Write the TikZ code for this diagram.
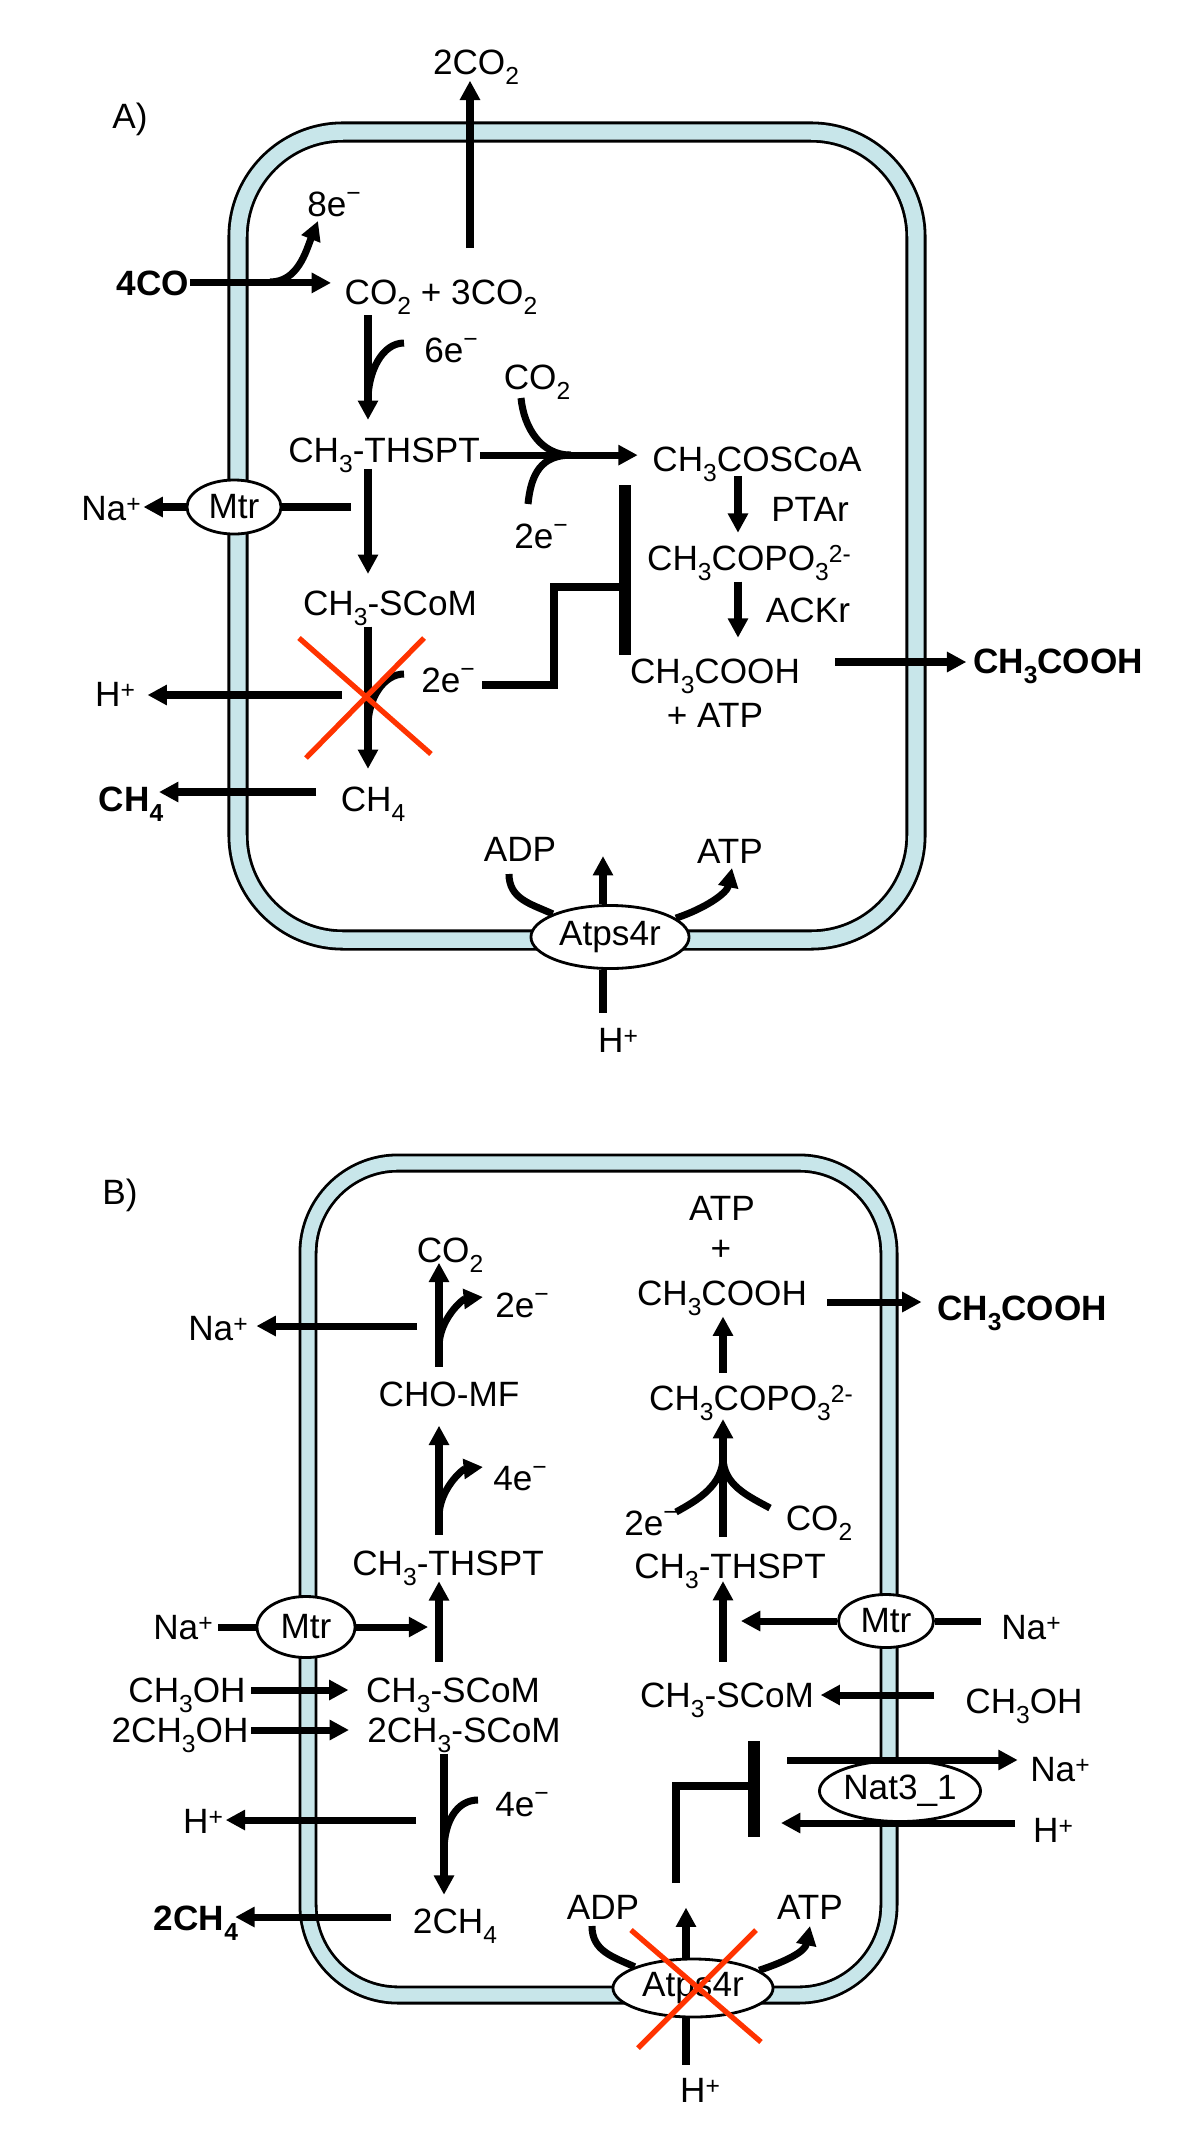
\documentclass[tikz,border=0pt]{standalone}
\usepackage{fontspec}
\setmainfont{Liberation Sans}
\usetikzlibrary{arrows.meta, shapes.geometric}
\definecolor{cellblue}{RGB}{200,230,234}
\definecolor{knockred}{RGB}{255,51,0}
\newcommand{\sbs}[1]{\raisebox{-0.3em}{\scriptsize #1}}
\newcommand{\sps}[1]{\raisebox{0.22em}{\scriptsize #1}}
\newcommand{\elec}[1]{#1e\raisebox{0.42em}{\scriptsize −}}

\begin{document}
\begin{tikzpicture}[x=0.01cm, y=-0.01cm,
  chem/.style={inner sep=0pt, anchor=base},
  flux/.style={-{Triangle[length=5.5pt,width=5.5pt]}, line width=2pt},
  bond/.style={line width=2pt},
  enzyme/.style={ellipse, draw, fill=white, line width=0.8pt, inner sep=0pt},
  inhibit/.style={line width=3.6pt},
  stepline/.style={line width=2.3pt},
  knockout/.style={knockred, line width=1.5pt},
  wallout/.style={line width=6pt, rounded corners=1.05cm},
  wallin/.style={cellblue, line width=4.4pt, rounded corners=1.05cm}]

\useasboundingbox (0,0) rectangle (1200,2154);

% Cell A membrane
\draw[wallout] (238,132) rectangle (916,940);
\draw[wallin] (238,132) rectangle (916,940);

% Cell B membrane
\draw[wallout, line width=5.4pt, rounded corners=0.9cm] (308,1163) rectangle (889,1995);
\draw[wallin, line width=3.8pt, rounded corners=0.9cm] (308,1163) rectangle (889,1995);

% Nodes for cell A
\node[chem] (labA) at (130,128) {A)};
\node[chem] (co2out) at (476,74) {2CO\sbs{2}};
\node[chem] (e8A) at (334,216) {\elec{8}};
\node[chem, font=\bfseries] (co4) at (153,295) {4CO};
\node[chem] (sumA) at (441,304) {CO\sbs{2} + 3CO\sbs{2}};
\node[chem] (e6A) at (451,362) {\elec{6}};
\node[chem] (co2inA) at (537,389) {CO\sbs{2}};
\node[chem] (thspA) at (384,462) {CH\sbs{3}-THSPT};
\node[chem] (e2A) at (541,548) {\elec{2}};
\node[chem] (cosA) at (757,471) {CH\sbs{3}COSCoA};
\node[chem] (ptar) at (810,521) {PTAr};
\node[chem] (copoA) at (749,570) {CH\sbs{3}COPO\sbs{3}\sps{2-}};
\node[chem] (ackr) at (808,622) {ACKr};
\node[chem] (acA) at (715,683) {CH\sbs{3}COOH};
\node[chem] (atpA) at (715,727) {+ ATP};
\node[chem, font=\bfseries] (acoutA) at (1058,673) {CH\sbs{3}COOH};
\node[enzyme, minimum width=0.94cm, minimum height=0.54cm] (mtrA) at (234,507) {Mtr};
\node[chem] (naA) at (111,520) {Na\sps{+}};
\node[chem] (scomA) at (390,615) {CH\sbs{3}-SCoM};
\node[chem] (e2bA) at (448,692) {\elec{2}};
\node[chem] (hA) at (115,706) {H\sps{+}};
\node[chem, font=\bfseries] (ch4outA) at (131,811) {CH\sbs{4}};
\node[chem] (ch4A) at (373,811) {CH\sbs{4}};
\node[chem] (adpA) at (520,861) {ADP};
\node[chem] (atp2A) at (730,863) {ATP};
\node[enzyme, minimum width=1.58cm, minimum height=0.63cm] (atpsA) at (610,937) {Atps4r};
\node[chem] (hinA) at (618,1052) {H\sps{+}};

% Nodes for cell B
\node[chem] (labB) at (120,1204) {B)};
\node[chem] (co2B) at (450,1262) {CO\sbs{2}};
\node[chem] (e2B) at (522,1317) {\elec{2}};
\node[chem] (naB1) at (218,1340) {Na\sps{+}};
\node[chem] (chomf) at (449,1406) {CHO-MF};
\node[chem] (e4B) at (520,1490) {\elec{4}};
\node[chem] (thspB) at (448,1575) {CH\sbs{3}-THSPT};
\node[chem] (naB2) at (183,1639) {Na\sps{+}};
\node[enzyme, minimum width=0.98cm, minimum height=0.61cm] (mtrB) at (306,1627) {Mtr};
\node[chem] (meohB) at (187,1702) {CH\sbs{3}OH};
\node[chem] (scomB) at (453,1702) {CH\sbs{3}-SCoM};
\node[chem] (meoh2B) at (180,1742) {2CH\sbs{3}OH};
\node[chem] (scom2B) at (464,1742) {2CH\sbs{3}-SCoM};
\node[chem] (e4bB) at (522,1816) {\elec{4}};
\node[chem] (hB1) at (203,1833) {H\sps{+}};
\node[chem, font=\bfseries] (ch4outB) at (196,1930) {2CH\sbs{4}};
\node[chem] (ch4B) at (455,1933) {2CH\sbs{4}};
\node[chem] (adpB) at (603,1919) {ADP};
\node[chem] (atp2B) at (810,1919) {ATP};
\node[enzyme, minimum width=1.6cm, minimum height=0.58cm] (atpsB) at (693,1988) {Atps4r};
\node[chem] (hinB) at (700,2102) {H\sps{+}};
\node[chem] (atpB) at (722,1220) {ATP};
\node[chem] (plusB) at (721,1260) {+};
\node[chem] (acB) at (722,1305) {CH\sbs{3}COOH};
\node[chem, font=\bfseries] (acoutB) at (1022,1320) {CH\sbs{3}COOH};
\node[chem] (copoB) at (751,1410) {CH\sbs{3}COPO\sbs{3}\sps{2-}};
\node[chem] (e2rB) at (651,1535) {\elec{2}};
\node[chem] (co2rB) at (819,1530) {CO\sbs{2}};
\node[chem] (thspR) at (730,1578) {CH\sbs{3}-THSPT};
\node[enzyme, minimum width=0.95cm, minimum height=0.53cm] (mtrR) at (886,1621) {Mtr};
\node[chem] (naR) at (1031,1639) {Na\sps{+}};
\node[chem] (scomR) at (727,1707) {CH\sbs{3}-SCoM};
\node[chem] (meohR) at (1024,1713) {CH\sbs{3}OH};
\node[enzyme, minimum width=1.61cm, minimum height=0.61cm] (nat) at (900,1791) {Nat3\_1};
\node[chem] (naNat) at (1060,1781) {Na\sps{+}};
\node[chem] (hNat) at (1053,1842) {H\sps{+}};

% Free ends and columns, cell A
\coordinate (outA) at (470,248);
\coordinate (fork8) at (270,282);
\coordinate (tip8) at (318,221);
\coordinate (e6in) at (404,343);
\coordinate (join6) at (368,400);
\coordinate (colA) at (368,0);
\coordinate (fuseA) at (571,0);
\coordinate (gasA) at (521,398);
\coordinate (redA) at (528,504);
\coordinate (e2in) at (404,674);
\coordinate (join2A) at (368,726);
\coordinate (hsrcA) at (342,695);
\coordinate (ch4srcA) at (316,792);
\coordinate (stepA) at (482,685);
\coordinate (barA) at (625,485);
\coordinate (acetA) at (738,0);
\coordinate (acsrcA) at (835,662);
\coordinate (adpinA) at (509,874);
\coordinate (tipatpA) at (732,868);
\coordinate (protA) at (603,0);

% Arrows, cell A
\draw[flux, shorten >=-1.3pt] (outA) -- (outA |- co2out.south);
\draw[flux, shorten >=3.7pt] (co4.east) -- (co4.east -| sumA.west);
\draw[flux] (fork8) .. controls +(28,0) and +(-12,30) .. (tip8);
\draw[flux, shorten >=4.8pt] (sumA.south -| colA) -- (thspA.north -| colA);
\draw[bond] (e6in) .. controls +(-22,0) and +(0,-28) .. (join6);
\draw[flux, shorten >=4pt] (thspA.east) -- (thspA.east -| cosA.west);
\draw[bond] (gasA) .. controls +(3,30) and +(-30,0) .. (thspA.east -| fuseA);
\draw[bond] (redA) .. controls +(3,-30) and +(-30,0) .. (thspA.east -| fuseA);
\draw[flux, shorten >=0.6pt] (mtrA.west) -- (mtrA.west -| naA.east);
\draw[bond] (mtrA.east) -- ++(69,0);
\draw[flux, shorten <=-1.3pt, shorten >=4.5pt] (thspA.south -| colA) -- (scomA.north -| colA);
\draw[flux, shorten >=4.8pt] (scomA.south -| colA) -- (ch4A.north -| colA);
\draw[bond] (e2in) .. controls +(-20,0) and +(0,-28) .. (join2A);
\draw[flux, shorten >=3.4pt] (hsrcA) -- (hsrcA -| hA.east);
\draw[flux, shorten >=-1.4pt] (ch4srcA) -- (ch4srcA -| ch4outA.east);
\draw[stepline] (stepA) -- ++(72,0) -- ++(0,-98) -- ++(71,0);
\draw[inhibit] (barA) -- ++(0,170);
\draw[flux, shorten <=-1.85pt, shorten >=3.3pt] (cosA.south -| acetA) -- (copoA.north -| acetA);
\draw[flux, shorten >=5.7pt] (copoA.south -| acetA) -- (acA.north -| acetA);
\draw[flux, shorten >=1.7pt] (acsrcA) -- (acsrcA -| acoutA.west);
\draw[bond] (adpinA) .. controls +(0,25) and +(-22,-10) .. (atpsA.158);
\draw[flux] (atpsA.north -| protA) -- ++(0,-48);
\draw[flux] (atpsA.16) .. controls +(30,-10) and +(-5,25) .. (tipatpA);
\draw[bond, shorten >=4pt] (atpsA.south -| protA) -- (hinA.north -| protA);
\draw[knockout] (299,638) -- (431,754);
\draw[knockout] (424,638) -- (306,758);

% Free ends and columns, cell B
\coordinate (colB) at (439,0);
\coordinate (colB2) at (444,0);
\coordinate (fork2B) at (439,1347);
\coordinate (tip2B) at (483,1297);
\coordinate (nasrcB) at (417,1326);
\coordinate (fork4B) at (439,1517);
\coordinate (tip4B) at (483,1467);
\coordinate (mesrcB) at (251,1690);
\coordinate (me2srcB) at (251,1730);
\coordinate (e4inB) at (478,1800);
\coordinate (join4B) at (444,1851);
\coordinate (hsrcB) at (416,1820);
\coordinate (ch4srcB) at (391,1917);
\coordinate (colR) at (723,0);
\coordinate (acsrcB) at (827,1302);
\coordinate (fuseR) at (723,1457);
\coordinate (redR) at (676,1512);
\coordinate (gasR) at (770,1508);
\coordinate (mesrcR) at (934,1695);
\coordinate (natsrc) at (787,1760);
\coordinate (hnatsrc) at (1015,1823);
\coordinate (hnatend) at (781,1823);
\coordinate (barB) at (754,1741);
\coordinate (stepB) at (676,1883);
\coordinate (adpinB) at (592,1926);
\coordinate (tipatpB) at (810,1926);
\coordinate (protB) at (686,0);

% Arrows, cell B
\draw[flux, shorten <=4pt, shorten >=-3pt] (chomf.north -| colB) -- (co2B.south -| colB);
\draw[flux] (fork2B) .. controls +(0,-28) and +(-20,2) .. (tip2B);
\draw[flux, shorten >=2.3pt] (nasrcB) -- (nasrcB -| naB1.east);
\draw[flux, shorten <=4.3pt, shorten >=5.3pt] (thspB.north -| colB) -- (chomf.south -| colB);
\draw[flux] (fork4B) .. controls +(0,-28) and +(-20,2) .. (tip4B);
\draw[flux, shorten <=4.3pt, shorten >=-1.5pt] (scomB.north -| colB) -- (thspB.south -| colB);
\draw[bond, shorten <=1.4pt] (mtrB.west -| naB2.east) -- (mtrB.west);
\draw[flux, shorten >=3.1pt] (mtrB.east) -- (mtrB.east -| colB);
\draw[flux, shorten >=4.8pt] (mesrcB) -- (mesrcB -| scomB.west);
\draw[flux, shorten >=5pt] (me2srcB) -- (me2srcB -| scom2B.west);
\draw[flux, shorten >=3.7pt] (scom2B.south -| colB2) -- (ch4B.north -| colB2);
\draw[bond] (e4inB) .. controls +(-22,0) and +(0,-28) .. (join4B);
\draw[flux, shorten >=0.6pt] (hsrcB) -- (hsrcB -| hB1.east);
\draw[flux, shorten >=-1pt] (ch4srcB) -- (ch4srcB -| ch4outB.east);
\draw[flux, shorten <=3.3pt] (copoB.north -| colR) -- (acB.south -| colR);
\draw[flux, shorten >=4.2pt] (acsrcB) -- (acsrcB -| acoutB.west);
\draw[flux, shorten <=4.5pt, shorten >=-0.7pt] (thspR.north -| colR) -- (copoB.south -| colR);
\draw[bond] (redR) .. controls +(22,-12) and +(0,28) .. (fuseR);
\draw[bond] (gasR) .. controls +(-22,-12) and +(0,28) .. (fuseR);
\draw[flux, shorten <=5.7pt, shorten >=-2.4pt] (scomR.north -| colR) -- (thspR.south -| colR);
\draw[flux, shorten >=5.1pt] (mtrR.west) -- (mtrR.west -| colR);
\draw[bond] (mtrR.east) -- ++(46,0);
\draw[flux, shorten >=1.7pt] (mesrcR) -- (mesrcR -| scomR.east);
\draw[flux, shorten >=3.4pt] (natsrc) -- (natsrc -| naNat.west);
\draw[flux] (hnatsrc) -- (hnatend);
\draw[inhibit] (barB) -- ++(0,96);
\draw[stepline] (stepB) -- ++(0,-97) -- ++(78,0);
\draw[bond] (adpinB) .. controls +(0,25) and +(-22,-10) .. (atpsB.160);
\draw[flux] (atpsB.north -| protB) -- ++(0,-50);
\draw[flux] (atpsB.15) .. controls +(30,-10) and +(-5,25) .. (tipatpB);
\draw[bond, shorten >=3.4pt] (atpsB.south -| protB) -- (hinB.north -| protB);
\draw[knockout] (631,1930) -- (761,2042);
\draw[knockout] (756,1930) -- (638,2048);

\end{tikzpicture}
\end{document}
